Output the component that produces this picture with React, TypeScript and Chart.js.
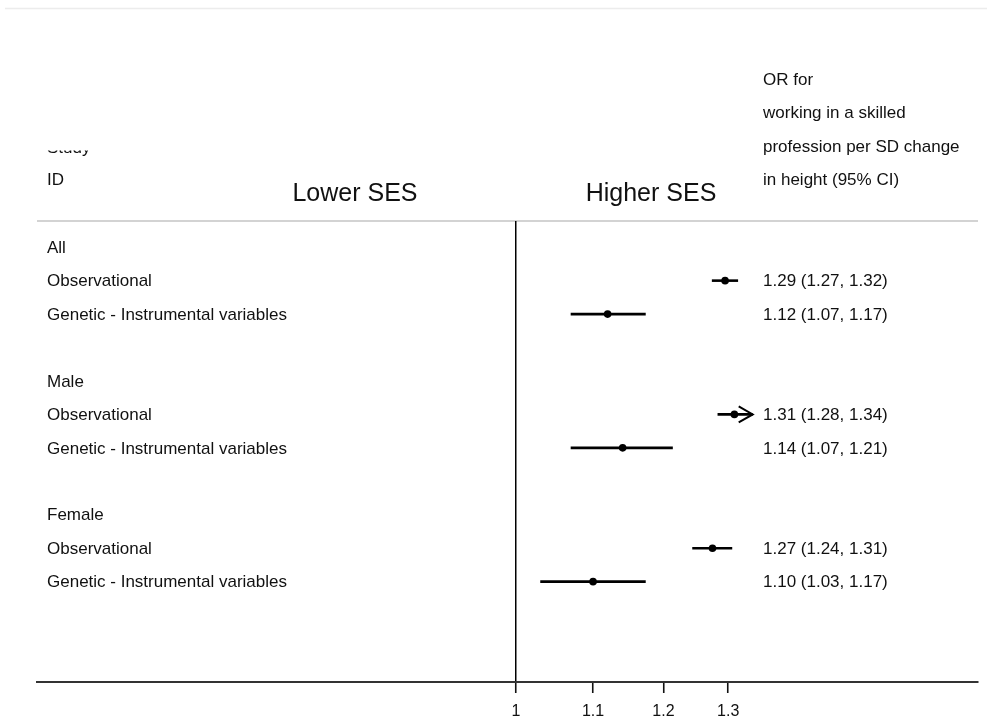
import React, { useEffect, useRef } from "react";
import { Chart, registerables } from "chart.js";

Chart.register(...registerables);

// ---------- data ----------
const rowLabels = [
  "All",
  "Observational",
  "Genetic - Instrumental variables",
  "",
  "Male",
  "Observational",
  "Genetic - Instrumental variables",
  "",
  "Female",
  "Observational",
  "Genetic - Instrumental variables",
];
const estimateRows = [1, 2, 5, 6, 9, 10];
const estimates = [1.295, 1.12, 1.31, 1.141, 1.275, 1.1];
const lowerCI = [1.274, 1.07, 1.283, 1.07, 1.2435, 1.0305];
const upperCI = [1.316, 1.174, 1.34, 1.214, 1.3065, 1.174];
const arrowRight = [false, false, true, false, false, false];
const estimateLabels = [
  "1.29 (1.27, 1.32)",
  "1.12 (1.07, 1.17)",
  "1.31 (1.28, 1.34)",
  "1.14 (1.07, 1.21)",
  "1.27 (1.24, 1.31)",
  "1.10 (1.03, 1.17)",
];
const xTickValues = [1, 1.1, 1.2, 1.3];
const xTickLabels = ["1", "1.1", "1.2", "1.3"];
const rightHeader = [
  "OR for",
  "working in a skilled",
  "profession per SD change",
  "in height (95% CI)",
];
const leftHeader = ["Study", "ID"];
const sideLabels = ["Lower SES", "Higher SES"];

const FONT = "'Liberation Sans', Arial, Helvetica, sans-serif";

export default function App() {
  const ref = useRef<HTMLCanvasElement | null>(null);

  useEffect(() => {
    const canvas = ref.current;
    if (!canvas) return;

    const textPlugin = {
      id: "forestText",
      beforeDraw(chart: any) {
        const { ctx, chartArea } = chart;
        ctx.save();
        // faint top border of the figure
        ctx.strokeStyle = "#ececec";
        ctx.lineWidth = 1.5;
        ctx.beginPath();
        ctx.moveTo(5, 8.5);
        ctx.lineTo(987, 8.5);
        ctx.stroke();
        // header separator line
        ctx.strokeStyle = "#c4c4c4";
        ctx.lineWidth = 1.5;
        ctx.beginPath();
        ctx.moveTo(chartArea.left, chartArea.top);
        ctx.lineTo(chartArea.right, chartArea.top);
        ctx.stroke();
        ctx.restore();
      },
      afterDraw(chart: any) {
        const { ctx, chartArea } = chart;
        const y = chart.scales.y;
        const x = chart.scales.x;
        ctx.save();
        ctx.fillStyle = "#111";
        ctx.textBaseline = "middle";
        ctx.textAlign = "left";
        ctx.font = `17px ${FONT}`;
        // row labels
        rowLabels.forEach((lab, i) => {
          if (lab) ctx.fillText(lab, 47, y.getPixelForValue(i) + 1);
        });
        // estimate labels
        estimateRows.forEach((r, i) => {
          ctx.fillText(estimateLabels[i], 763, y.getPixelForValue(r) + 1);
        });
        // right header
        rightHeader.forEach((t, i) => {
          ctx.fillText(t, 763, y.getPixelForValue(-5 + i));
        });
        // left header (Study is clipped at the top)
        ctx.save();
        ctx.beginPath();
        ctx.rect(0, 150.5, 300, 100);
        ctx.clip();
        ctx.fillText(leftHeader[0], 47, y.getPixelForValue(-3) + 1);
        ctx.restore();
        ctx.fillText(leftHeader[1], 47, y.getPixelForValue(-2));
        // side labels
        ctx.font = `25px ${FONT}`;
        ctx.textAlign = "center";
        ctx.fillText(sideLabels[0], 355, chartArea.top - 27);
        ctx.fillText(sideLabels[1], 651, chartArea.top - 27);
        // arrowheads for clipped CIs
        ctx.strokeStyle = "#000";
        ctx.lineWidth = 2;
        estimateRows.forEach((r, i) => {
          if (!arrowRight[i]) return;
          const px = x.getPixelForValue(upperCI[i]);
          const py = y.getPixelForValue(r);
          ctx.beginPath();
          ctx.moveTo(px - 14, py - 8);
          ctx.lineTo(px, py);
          ctx.lineTo(px - 14, py + 8);
          ctx.stroke();
        });
        ctx.restore();
      },
    };

    const ciDatasets = estimateRows.map((r, i) => ({
      type: "scatter" as const,
      data: [
        { x: lowerCI[i], y: r },
        { x: upperCI[i], y: r },
      ],
      showLine: true,
      borderColor: "#000",
      borderWidth: 2.6,
      pointRadius: 0,
      order: 1,
    }));

    const chart = new Chart(canvas, {
      type: "scatter",
      data: {
        datasets: [
          {
            data: estimateRows.map((r, i) => ({ x: estimates[i], y: r })),
            backgroundColor: "#000",
            borderColor: "#000",
            borderWidth: 0,
            pointRadius: 3.8,
            order: 0,
          },
          ...ciDatasets,
        ],
      },
      options: {
        responsive: false,
        animation: false,
        devicePixelRatio: 1,
        layout: { padding: { left: 37, right: 9, top: 221, bottom: 0 } },
        plugins: { legend: { display: false }, tooltip: { enabled: false } },
        scales: {
          x: {
            type: "logarithmic",
            min: 0.5532,
            max: 1.7703,
            afterBuildTicks: (scale: any) => {
              scale.ticks = xTickValues.map((v) => ({ value: v }));
            },
            afterFit: (scale: any) => {
              scale.height = 43;
              scale.paddingLeft = 0;
              scale.paddingRight = 0;
            },
            border: { display: true, color: "#333", width: 2 },
            grid: {
              display: true,
              drawOnChartArea: true,
              drawTicks: true,
              tickLength: 11,
              tickColor: "#111",
              tickWidth: 1.6,
              color: (c: any) =>
                c.tick && c.tick.value === 1 ? "#000" : "rgba(0,0,0,0)",
              lineWidth: 1.5,
            },
            ticks: {
              autoSkip: false,
              maxRotation: 0,
              padding: 9,
              color: "#111",
              font: { family: FONT, size: 16 },
              callback: (_v: any, idx: number) => xTickLabels[idx],
            },
          },
          y: {
            type: "linear",
            reverse: true,
            min: -0.783,
            max: 13.0,
            display: false,
          },
        },
      },
      plugins: [textPlugin],
    } as any);

    return () => chart.destroy();
  }, []);

  return (
    <div style={{ position: "absolute", left: 0, top: 0, width: 987, height: 725, background: "#fff" }}>
      <canvas ref={ref} width={987} height={725} style={{ display: "block" }} />
    </div>
  );
}
